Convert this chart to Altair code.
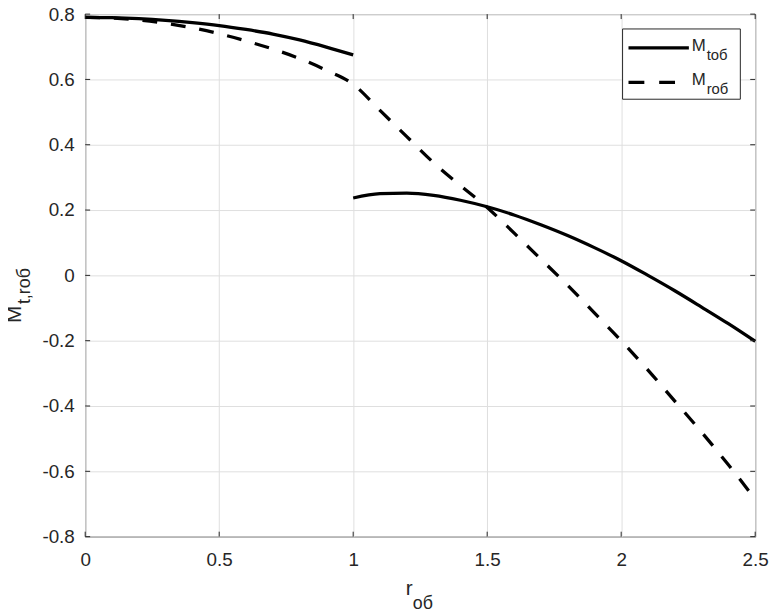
import altair as alt
import pandas as pd

W, H = 677, 528

# --- data ---
r_upper = [0.0, 0.1, 0.2, 0.3, 0.4, 0.5, 0.6, 0.7, 0.8, 0.9, 1.0]
m_t_upper = [0.790, 0.789, 0.786, 0.781, 0.774, 0.765, 0.753, 0.739, 0.721, 0.699, 0.675]

r_lower = [1.0, 1.1, 1.2, 1.3, 1.4, 1.5, 1.6, 1.7, 1.8, 1.9, 2.0, 2.1, 2.2, 2.3, 2.4, 2.5]
m_t_lower = [0.237, 0.250, 0.252, 0.245, 0.230, 0.210, 0.185, 0.155, 0.122, 0.085,
             0.045, 0.000, -0.047, -0.097, -0.148, -0.202]

r_dash = [0.0, 0.1, 0.2, 0.3, 0.4, 0.5, 0.6, 0.7, 0.8, 0.9, 1.0, 1.1, 1.2, 1.3, 1.4,
          1.5, 1.6, 1.7, 1.8, 1.9, 2.0, 2.1, 2.2, 2.3, 2.4, 2.5]
m_r = [0.790, 0.788, 0.782, 0.772, 0.758, 0.740, 0.718, 0.693, 0.664, 0.628, 0.585,
       0.505, 0.425, 0.345, 0.275, 0.208, 0.130, 0.050, -0.030, -0.115, -0.200,
       -0.290, -0.385, -0.480, -0.580, -0.685]

x_ticks = [0, 0.5, 1, 1.5, 2, 2.5]
y_ticks = [-0.8, -0.6, -0.4, -0.2, 0, 0.2, 0.4, 0.6, 0.8]

x_title_main, x_title_sub = "r", "об"
y_title_main, y_title_sub = "M", "t,rоб"
legend_main = ["M", "M"]
legend_sub = ["tоб", "rоб"]

FONT = "Liberation Sans"
TXT = "#262626"
LW = 3.3
DASH = [15, 14]

solid_df = pd.concat([
    pd.DataFrame({"r": r_upper, "m": m_t_upper, "seg": "upper"}),
    pd.DataFrame({"r": r_lower, "m": m_t_lower, "seg": "lower"}),
])
dash_df = pd.DataFrame({"r": r_dash, "m": m_r})
xt_df = pd.DataFrame({"v": x_ticks})
yt_df = pd.DataFrame({"v": y_ticks})

xs = alt.Scale(domain=[0, 2.5], nice=False, zero=False)
ys = alt.Scale(domain=[-0.8, 0.8], nice=False, zero=False)

lbl_expr = "replace(format(datum.value, '~g'), '\u2212', '-')"
xaxis = alt.Axis(values=x_ticks, title=None, grid=True, gridColor="#dfdfdf",
                 domain=False, ticks=False, tickSize=0, labelFont=FONT,
                 labelFontSize=19, labelColor=TXT, labelPadding=14,
                 labelFlush=False, labelOverlap=False, labelExpr=lbl_expr)
yaxis = alt.Axis(values=y_ticks, title=None, grid=True, gridColor="#dfdfdf",
                 domain=False, ticks=False, tickSize=0, labelFont=FONT,
                 labelFontSize=19, labelColor=TXT, labelPadding=11,
                 labelFlush=False, labelOverlap=False, labelExpr=lbl_expr)

X = lambda f: alt.X(f, scale=xs, axis=xaxis)
Y = lambda f: alt.Y(f, scale=ys, axis=yaxis)

solid = alt.Chart(solid_df).mark_line(color="black", strokeWidth=LW, interpolate="monotone").encode(
    x=X("r:Q"), y=Y("m:Q"), detail="seg:N")
dashed = alt.Chart(dash_df).mark_line(color="black", strokeWidth=LW, strokeDash=DASH,
                                       interpolate="monotone").encode(x=X("r:Q"), y=Y("m:Q"))

TL = 5
tick_layers = [
    alt.Chart(xt_df).mark_rule(color=TXT, strokeWidth=1).encode(x=X("v:Q"), y=alt.value(H), y2=alt.value(H - TL)),
    alt.Chart(xt_df).mark_rule(color=TXT, strokeWidth=1).encode(x=X("v:Q"), y=alt.value(0), y2=alt.value(TL)),
    alt.Chart(yt_df).mark_rule(color=TXT, strokeWidth=1).encode(y=Y("v:Q"), x=alt.value(0), x2=alt.value(TL)),
    alt.Chart(yt_df).mark_rule(color=TXT, strokeWidth=1).encode(y=Y("v:Q"), x=alt.value(W), x2=alt.value(W - TL)),
]


def txt(s, x, y, size, angle=0):
    return alt.Chart(pd.DataFrame({"s": [s]})).mark_text(
        align="left", baseline="alphabetic", font=FONT, fontSize=size, angle=angle, color=TXT
    ).encode(x=alt.value(x), y=alt.value(y), text="s:N")


one = pd.DataFrame({"k": [0]})
legend_box = alt.Chart(one).mark_rect(fill="white", stroke=TXT, strokeWidth=1).encode(
    x=alt.value(543), x2=alt.value(662), y=alt.value(15), y2=alt.value(86))
legend_l1 = alt.Chart(one).mark_rule(color="black", strokeWidth=LW).encode(
    x=alt.value(549), x2=alt.value(610), y=alt.value(34))
legend_l2 = alt.Chart(one).mark_rule(color="black", strokeWidth=LW, strokeDash=[16, 15]).encode(
    x=alt.value(549), x2=alt.value(597), y=alt.value(69))

texts = [
    txt(legend_main[0], 613, 37, 17), txt(legend_sub[0], 628, 46, 15),
    txt(legend_main[1], 613, 72, 17), txt(legend_sub[1], 628, 81, 15),
    txt(x_title_main, 324, 587, 21), txt(x_title_sub, 331, 601, 18),
    txt(y_title_main, -65, 312, 21, angle=270), txt(y_title_sub, -56, 293, 18, angle=270),
]

chart = alt.layer(solid, dashed, *tick_layers, legend_box, legend_l1, legend_l2, *texts).properties(
    width=W, height=H,
    autosize=alt.AutoSizeParams(type="none"),
    padding={"left": 78, "top": 3, "right": 17, "bottom": 76},
).configure_view(stroke=TXT, strokeWidth=1)

chart.save("out.html", embed_options={"renderer": "svg", "actions": False})
